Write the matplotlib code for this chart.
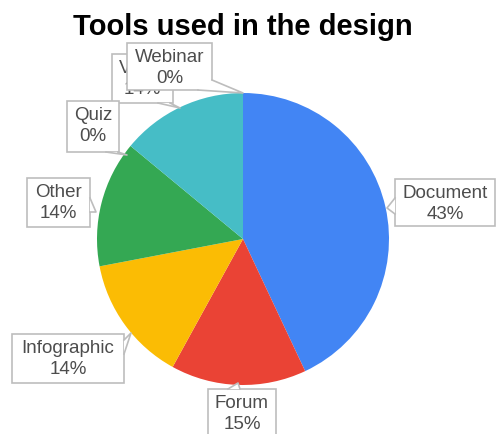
import numpy as np
from matplotlib import pyplot as plt
from matplotlib.patches import Rectangle, Polygon

plt.rcParams['font.family'] = ['Liberation Sans', 'DejaVu Sans']

# データ
labels = ["Document", "Forum", "Infographic", "Other", "Quiz", "Video", "Webinar"]
shares = [43, 15, 14, 14, 0, 14, 0]
colors = ["#4285F4", "#EA4335", "#FBBC04", "#34A853", "#FF6D01", "#46BDC6", "#7BAAF7"]

W, H = 496, 434

# 吹き出しの配置 (ピクセル座標, 左上原点): box = (x0, y0, x1, y1), tail = (基点1, 基点2, 先端)
callouts = {
    "Document":    ((395, 179, 495, 226), ((395, 198), (395, 214), (387, 208))),
    "Forum":       ((208, 389, 276, 445), ((228, 389), (240, 389), (238, 383))),
    "Infographic": ((12, 334, 124, 383), ((124, 340), (124, 354), (131, 333))),
    "Other":       ((27, 178, 90, 227), ((90, 198), (90, 212), (96, 212))),
    "Quiz":        ((67, 101, 119, 152), ((106, 152), (118, 152), (127, 155))),
    "Video":       ((112, 54, 173, 103), ((158, 103), (170, 103), (180, 108))),
    "Webinar":     ((127, 43, 212, 90), ((198, 90), (212, 80), (243, 93))),
}
draw_order = ["Video", "Webinar", "Quiz", "Other", "Infographic", "Forum", "Document"]


def px(x, y):
    """ピクセル座標 -> データ座標"""
    return x, H - y


#==============================================================#
fig = plt.figure(figsize=(W / 100, H / 100), dpi=100)
ax = fig.add_axes([0, 0, 1, 1])
ax.set_xlim(0, W)
ax.set_ylim(0, H)
ax.set_aspect("equal")
ax.axis("off")

# 円グラフ
ax.pie(shares, colors=colors, startangle=90, counterclock=False,
       center=px(243, 239), radius=146, wedgeprops=dict(linewidth=0))
ax.set_xlim(0, W)
ax.set_ylim(0, H)

# 吹き出し
z = 3
for name in draw_order:
    i = labels.index(name)
    (x0, y0, x1, y1), (b1, b2, tip) = callouts[name]
    bx, by = px(x0, y1)
    ax.add_patch(Rectangle((bx, by), x1 - x0, y1 - y0, facecolor="white",
                           edgecolor="#BDBDBD", linewidth=1.2, zorder=z))
    pts = [px(*b1), px(*tip), px(*b2)]
    ax.add_patch(Polygon(pts, closed=True, facecolor="white", edgecolor="none", zorder=z + 0.1))
    ax.plot([pts[0][0], pts[1][0], pts[2][0]], [pts[0][1], pts[1][1], pts[2][1]],
            color="#BDBDBD", linewidth=1.2, zorder=z + 0.2)
    cx, cy = px((x0 + x1) / 2, y0 + 25)
    ax.text(cx, cy, f"{name}\n{shares[i]}%", ha="center", va="center",
            fontsize=13.5, color="#4D4D4D", linespacing=1.25, zorder=z + 0.3)
    z += 1

fig.text(0.489, 0.937, "Tools used in the design", ha="center", va="center",
         fontsize=21, fontweight="bold", color="black")

fig.savefig("out.png", dpi=100)
